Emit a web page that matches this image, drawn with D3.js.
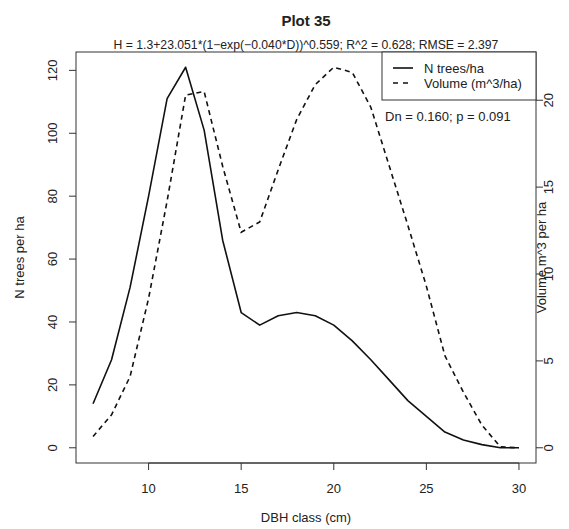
<!DOCTYPE html>
<html>
<head>
<meta charset="utf-8">
<script src="https://cdn.jsdelivr.net/npm/d3@7"></script>
<style>
  body { margin: 0; background: #fff; }
  svg { display: block; }
  text { font-family: "Liberation Sans", Arial, Helvetica, sans-serif; fill: #222; }
</style>
</head>
<body>
<svg id="chart" width="569" height="529"></svg>
<script>
// ---- data ----
const dbhClass = [7, 8, 9, 10, 11, 12, 13, 14, 15, 16, 17, 18, 19, 20, 21, 22, 23, 24, 25, 26, 27, 28, 29, 30];
const nTrees   = [14, 28, 51, 80, 111, 121, 101, 66, 43, 39, 42, 43, 42, 39, 34, 28, 21.5, 15, 10, 5, 2.5, 1, 0, 0];
const volume   = [0.65, 1.9, 4.1, 8.6, 14.2, 20.3, 20.5, 16.2, 12.4, 13.0, 16.0, 18.9, 20.9, 21.9, 21.6, 19.6, 16.2, 12.8, 9.3, 5.3, 3.2, 1.3, 0.05, 0];
const xTicks = [10, 15, 20, 25, 30];
const yLeftTicks = [0, 20, 40, 60, 80, 100, 120];
const yRightTicks = [0, 5, 10, 15, 20];
const legendLabels = ["N trees/ha", "Volume (m^3/ha)"];
const titleText = "Plot 35";
const subtitleText = "H = 1.3+23.051*(1\u2212exp(\u22120.040*D))^0.559; R^2 = 0.628; RMSE = 2.397";
const ksText = "Dn = 0.160; p = 0.091";

// ---- layout ----
const L = 76, R = 536, T = 52, B = 463;
const FS = 13;
const svg = d3.select("#chart");

function pad(ext) { const r = ext[1] - ext[0]; return [ext[0] - 0.04 * r, ext[1] + 0.04 * r]; }

const x = d3.scaleLinear().domain(pad(d3.extent(dbhClass))).range([L, R]);
const yL = d3.scaleLinear().domain(pad([0, d3.max(nTrees)])).range([B, T]);
const yR = d3.scaleLinear().domain(pad([0, d3.max(volume)])).range([B, T]);

// plot box
svg.append("rect").attr("x", L).attr("y", T).attr("width", R - L).attr("height", B - T)
  .attr("fill", "none").attr("stroke", "#333").attr("stroke-width", 1);

// axes
const tickLen = 7;
const xAxis = svg.append("g");
xAxis.append("line").attr("x1", x(xTicks[0])).attr("x2", x(xTicks[xTicks.length-1]))
  .attr("y1", B).attr("y2", B).attr("stroke", "#333");
xTicks.forEach(t => {
  xAxis.append("line").attr("x1", x(t)).attr("x2", x(t)).attr("y1", B).attr("y2", B + tickLen).attr("stroke", "#333");
  xAxis.append("text").attr("x", x(t)).attr("y", 493).attr("text-anchor", "middle")
    .attr("font-size", FS).text(t);
});

yLeftTicks.forEach(t => {
  svg.append("line").attr("x1", L - tickLen).attr("x2", L).attr("y1", yL(t)).attr("y2", yL(t)).attr("stroke", "#333");
  svg.append("text").attr("transform", `translate(57,${yL(t)}) rotate(-90)`)
    .attr("text-anchor", "middle").attr("font-size", FS).text(t);
});
yRightTicks.forEach(t => {
  svg.append("line").attr("x1", R).attr("x2", R + tickLen).attr("y1", yR(t)).attr("y2", yR(t)).attr("stroke", "#333");
  svg.append("text").attr("transform", `translate(553,${yR(t)}) rotate(-90)`)
    .attr("text-anchor", "middle").attr("font-size", FS).text(t);
});

// lines
const lineN = d3.line().x((d, i) => x(dbhClass[i])).y(d => yL(d));
const lineV = d3.line().x((d, i) => x(dbhClass[i])).y(d => yR(d));
svg.append("path").datum(nTrees).attr("d", lineN).attr("fill", "none")
  .attr("stroke", "#111").attr("stroke-width", 1.6).attr("stroke-linejoin", "round");
svg.append("path").datum(volume).attr("d", lineV).attr("fill", "none")
  .attr("stroke", "#111").attr("stroke-width", 1.6).attr("stroke-dasharray", "5,4");

// titles
svg.append("text").attr("x", 306).attr("y", 26).attr("text-anchor", "middle")
  .attr("font-size", 15).attr("font-weight", "bold").text(titleText);
svg.append("text").attr("x", 306).attr("y", 49).attr("text-anchor", "middle")
  .attr("font-size", 12.2).text(subtitleText);
svg.append("text").attr("x", 306).attr("y", 522).attr("text-anchor", "middle")
  .attr("font-size", FS).text("DBH class (cm)");
svg.append("text").attr("transform", `translate(24,${(T + B) / 2}) rotate(-90)`)
  .attr("text-anchor", "middle").attr("font-size", FS).text("N trees per ha");
svg.append("text").attr("transform", `translate(546,${(T + B) / 2}) rotate(-90)`)
  .attr("text-anchor", "middle").attr("font-size", FS).text("Volume m^3 per ha");

// legend
const lg = svg.append("g");
lg.append("rect").attr("x", 382).attr("y", T).attr("width", R - 382).attr("height", 48)
  .attr("fill", "#fff").attr("stroke", "#333");
legendLabels.forEach((lab, i) => {
  const yy = 68 + i * 15;
  lg.append("line").attr("x1", 393).attr("x2", 413).attr("y1", yy).attr("y2", yy)
    .attr("stroke", "#111").attr("stroke-width", 1.6)
    .attr("stroke-dasharray", i === 1 ? "5,5" : null);
  lg.append("text").attr("x", 424).attr("y", yy + 4.5).attr("font-size", FS).text(lab);
});

svg.append("text").attr("x", 385).attr("y", 121).attr("font-size", FS).text(ksText);
</script>
</body>
</html>
